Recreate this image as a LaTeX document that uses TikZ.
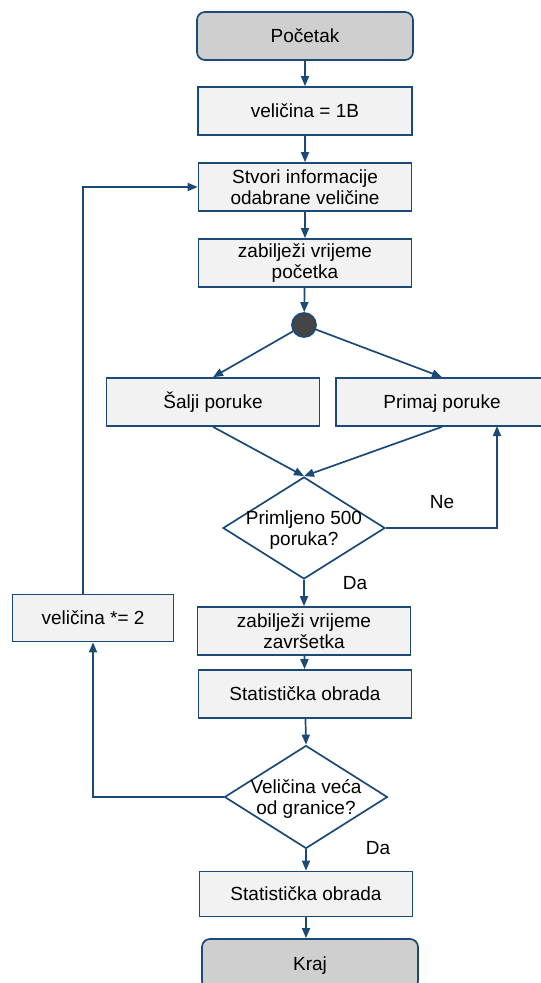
\documentclass[tikz,border=0pt]{standalone}
\usepackage{fontspec}
\setmainfont{Liberation Sans}
\usetikzlibrary{shapes.geometric,arrows.meta}

\definecolor{edgeblue}{HTML}{1B4A78}
\definecolor{boxfill}{HTML}{F2F2F2}
\definecolor{termfill}{HTML}{CFCFCF}
\definecolor{dotfill}{HTML}{454545}

\tikzset{
  base/.style={draw=edgeblue, line width=1.7pt, inner sep=2pt, align=center,
    font=\fontsize{19}{20.5}\selectfont},
  oneline/.style={text height=13.5pt, text depth=0pt},
  procbox/.style={base, rectangle, fill=boxfill, minimum width=#1, minimum height=48pt},
  procbox/.default=213pt,
  termbox/.style={base, oneline, rectangle, rounded corners=8pt, fill=termfill,
    minimum width=216pt, minimum height=48pt},
  decision/.style={draw=edgeblue, line width=1.7pt, diamond, fill=white,
    minimum width=#1, minimum height=102pt, inner sep=0pt},
  decision/.default=162pt,
  txt/.style={align=center, inner sep=0pt, font=\fontsize{19}{20.5}\selectfont},
  flow/.style={draw=edgeblue, line width=1.7pt,
    -{Triangle[length=10pt,width=8pt]}},
}

\begin{document}
\begin{tikzpicture}[x=1pt, y=-1pt]
  \useasboundingbox (0,0) rectangle (541,983);
  \clip (0,0) rectangle (541,983);

  % main column
  \node[termbox] (start) at (305,36) {Početak};
  \node[procbox=214pt, oneline] (init) at (305,111) {veličina = 1B};
  \node[procbox] (make) at (305,187) {Stvori informacije\\odabrane veličine};
  \node[procbox] (t0) at (305,263) {zabilježi vrijeme\\početka};
  \node[draw=edgeblue, line width=1.7pt, circle, fill=dotfill,
        minimum size=24pt, inner sep=0pt] (fork) at (304,325) {};

  % parallel branches
  \node[procbox, oneline] (send) at (213,402) {Šalji poruke};
  \node[procbox=212pt, oneline] (recv) at (442,402) {Primaj poruke};

  % first decision
  \node[decision] (d1) at (304,528) {};
  \node[txt] (d1txt) at (304,530) {Primljeno 500\\poruka?};

  \node[procbox] (t1) at (304,631) {zabilježi vrijeme\\završetka};
  \node[procbox, oneline] (stat1) at (305,694) {Statistička obrada};

  % second decision
  \node[decision=163pt, minimum height=103pt] (d2) at (306,797) {};
  \node[txt] (d2txt) at (306,799) {Veličina veća\\od granice?};

  \node[procbox=161pt, oneline, minimum height=47pt] (grow) at (93,618) {veličina *= 2};

  \node[procbox, oneline, minimum height=45pt] (stat2) at (306,894) {Statistička obrada};
  \node[termbox, minimum height=50pt] (end) at (310,964) {Kraj};

  % branch labels
  \node[txt] (no) at (442,502) {Ne};
  \node[txt] (yes1) at (355,583) {Da};
  \node[txt] (yes2) at (378,848) {Da};

  % helper points for the loops
  \coordinate (retry) at (497,426);
  \coordinate (back) at (83,595);

  % connectors
  \draw[flow] (start) -- (init);
  \draw[flow] (init) -- (make);
  \draw[flow] (make) -- (t0);
  \draw[flow] (t0) -- (fork);
  \draw[flow] (fork) -- (send.north);
  \draw[flow] (fork) -- (recv.north);
  \draw[flow] (send.south) -- (d1.north);
  \draw[flow] (recv.south) -- (d1.north);
  \draw[flow] (d1.east) -| (retry);
  \draw[flow] (d1.south) -- (t1);
  \draw[flow] (t1) -- (stat1);
  \draw[flow] (stat1) -- (d2.north);
  \draw[flow] (d2.west) -| (grow.south);
  \draw[flow] (back) |- (make.west);
  \draw[flow] (d2.south) -- (stat2);
  \draw[flow] (stat2.south) -- (stat2.south |- end.north);
\end{tikzpicture}
\end{document}
